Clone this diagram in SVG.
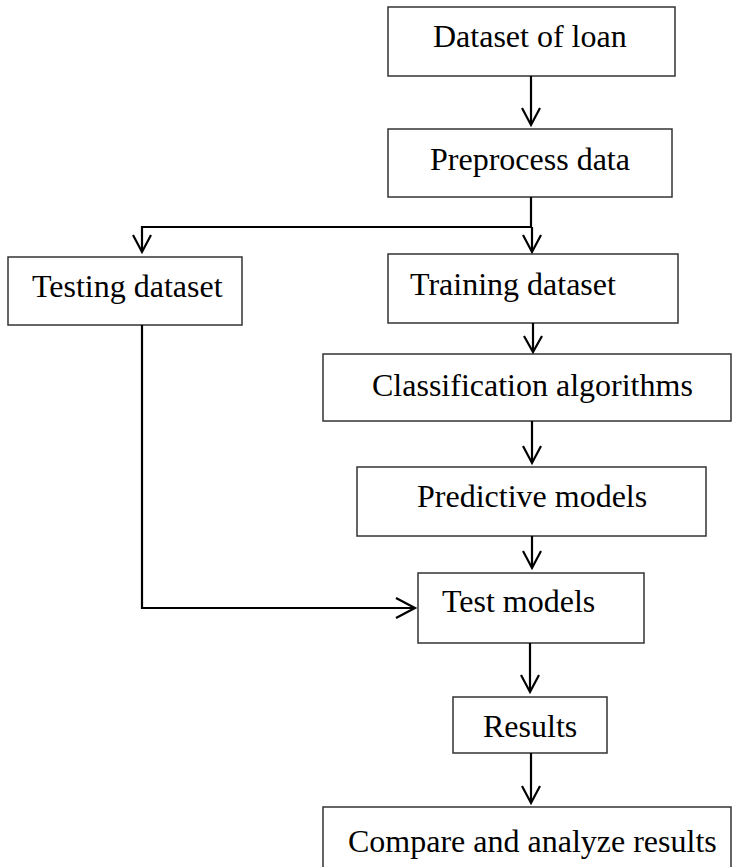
<svg xmlns="http://www.w3.org/2000/svg" width="733" height="867" viewBox="0 0 733 867">
<style>
.box{fill:#fff;stroke:#333;stroke-width:1.5}
.lbl{font-family:"Liberation Serif","Times New Roman",serif;font-size:32px;fill:#000}
.con{fill:none;stroke:#000;stroke-width:2.2}
.head{fill:none;stroke:#000;stroke-width:2.2;stroke-linejoin:miter}
</style>
<rect width="733" height="867" fill="#fff"/>
<g id="n1"><rect class="box" x="388" y="7" width="287" height="69"/><text class="lbl" x="433" y="47">Dataset of loan</text></g>
<g id="n2"><rect class="box" x="388" y="129" width="284" height="68"/><text class="lbl" x="430" y="170">Preprocess data</text></g>
<g id="n3"><rect class="box" x="8" y="257" width="234" height="68"/><text class="lbl" x="32" y="297">Testing dataset</text></g>
<g id="n4"><rect class="box" x="388" y="254" width="290" height="69"/><text class="lbl" x="410" y="295">Training dataset</text></g>
<g id="n5"><rect class="box" x="323" y="354" width="408" height="67"/><text class="lbl" x="372" y="396">Classification algorithms</text></g>
<g id="n6"><rect class="box" x="357" y="467" width="349" height="69"/><text class="lbl" x="417" y="507">Predictive models</text></g>
<g id="n7"><rect class="box" x="418" y="573" width="226" height="70"/><text class="lbl" x="442" y="612">Test models</text></g>
<g id="n8"><rect class="box" x="453" y="697" width="154" height="56"/><text class="lbl" x="483" y="737">Results</text></g>
<g id="n9"><rect class="box" x="323" y="807" width="408" height="64"/><text class="lbl" x="348" y="852">Compare and analyze results</text></g>
<g id="connectors">
<path class="con" d="M531 76 V124"/><path class="head" d="M522 108 L531 125 L540 108"/>
<path class="con" d="M531 197 V227 H142 V251"/><path class="head" d="M133 235 L142 252 L151 235"/>
<path class="con" d="M532 227 V251"/><path class="head" d="M523 235 L532 252 L541 235"/>
<path class="con" d="M533 323 V351"/><path class="head" d="M524 336 L533 352 L542 336"/>
<path class="con" d="M532 421 V462"/><path class="head" d="M523 446 L532 463 L541 446"/>
<path class="con" d="M532 536 V567"/><path class="head" d="M523 551 L532 568 L541 551"/>
<path class="con" d="M142 325 V608 H414"/><path class="head" d="M396 598 L415 608 L396 618"/>
<path class="con" d="M530 643 V691"/><path class="head" d="M521 675 L530 692 L539 675"/>
<path class="con" d="M531 753 V802"/><path class="head" d="M522 786 L531 803 L540 786"/>
</g>
</svg>
